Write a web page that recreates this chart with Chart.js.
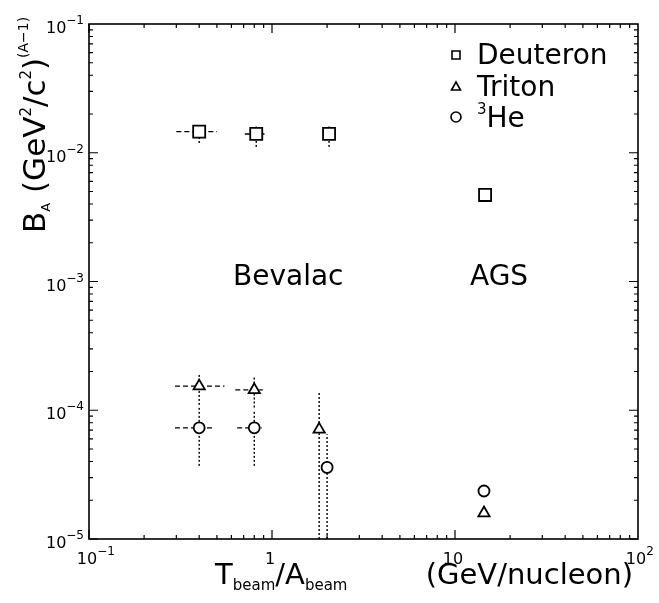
<!DOCTYPE html>
<html>
<head>
<meta charset="UTF-8" />
<title>B_A vs beam energy</title>
<script src="https://cdn.jsdelivr.net/npm/chart.js"></script>
<style>
  body { margin: 0; background: #fff; }
  canvas { display: block; }
</style>
</head>
<body>
<canvas id="baChart" width="659" height="603"></canvas>
<script>
// --- data ---
const deutX   = [0.40, 0.82, 2.05, 14.6];
const deutY   = [0.0146, 0.0140, 0.0140, 0.0047];
const deutXLo = [0.30, 0.71, null, null];
const deutXHi = [0.50, 0.91, null, null];
const deutYLo = [0.0119, 0.0111, 0.0111, null];
const deutYHi = [0.0167, 0.0160, 0.0160, null];

const tritX   = [0.40, 0.80, 1.81, 14.4];
const tritY   = [1.54e-4, 1.44e-4, 7.1e-5, 1.59e-5];
const tritXLo = [0.295, 0.63, null, null];
const tritXHi = [0.55, 0.89, null, null];
const tritYLo = [1.1e-4, 1.05e-4, 1e-5, null];
const tritYHi = [1.95e-4, 1.8e-4, 1.39e-4, null];

const heX   = [0.40, 0.80, 2.0, 14.4];
const heY   = [7.3e-5, 7.3e-5, 3.6e-5, 2.36e-5];
const heXLo = [0.295, 0.645, null, null];
const heXHi = [0.475, 0.88, null, null];
const heYLo = [3.7e-5, 3.7e-5, 1e-5, null];
const heYHi = [1.05e-4, 1.0e-4, 6.5e-5, null];

const xMajor = [0.1, 1, 10, 100];
const xTickBase = ["10", "1", "10", "10"];
const xTickExp  = ["\u22121", "", "", "2"];
const yMajor = [1e-1, 1e-2, 1e-3, 1e-4, 1e-5];
const yTickBase = ["10", "10", "10", "10", "10"];
const yTickExp  = ["\u22121", "\u22122", "\u22123", "\u22124", "\u22125"];

const legendNames = ["Deuteron", "Triton", "He"];
const regionLabels = ["Bevalac", "AGS"];

const FONT = "'DejaVu Sans', sans-serif";

function pts(xs, ys) {
  return xs.map((x, i) => ({ x: x, y: ys[i] }));
}

// draw a run of text pieces: [text, size, dy]
function drawRich(ctx, parts, x, y, align) {
  let w = 0;
  parts.forEach(p => { ctx.font = p[1] + "px " + FONT; w += ctx.measureText(p[0]).width; });
  let cx = align === "right" ? x - w : align === "center" ? x - w / 2 : x;
  ctx.textAlign = "left";
  ctx.textBaseline = "alphabetic";
  parts.forEach(p => {
    ctx.font = p[1] + "px " + FONT;
    ctx.fillText(p[0], cx, y + (p[2] || 0));
    cx += ctx.measureText(p[0]).width;
  });
}

function marker(ctx, style, x, y, r) {
  ctx.beginPath();
  if (style === "rect") {
    ctx.rect(x - r, y - r, 2 * r, 2 * r);
  } else if (style === "triangle") {
    ctx.moveTo(x, y - r);
    ctx.lineTo(x + r * 0.9, y + r * 0.6);
    ctx.lineTo(x - r * 0.9, y + r * 0.6);
    ctx.closePath();
  } else {
    ctx.arc(x, y, r, 0, Math.PI * 2);
  }
  ctx.fillStyle = "#fff";
  ctx.fill();
  ctx.stroke();
}

const errorBars = {
  id: "errorBars",
  beforeDatasetsDraw(chart) {
    const ctx = chart.ctx, xs = chart.scales.x, ys = chart.scales.y, a = chart.chartArea;
    ctx.save();
    ctx.beginPath();
    ctx.rect(a.left, a.top, a.right - a.left, a.bottom - a.top);
    ctx.clip();
    ctx.strokeStyle = "#000";
    ctx.lineWidth = 1.4;
    chart.data.datasets.forEach(ds => {
      ds.data.forEach((p, i) => {
        const px = xs.getPixelForValue(p.x), py = ys.getPixelForValue(p.y);
        if (ds.xLo[i] != null) {
          ctx.setLineDash([5, 3]);
          ctx.beginPath();
          ctx.moveTo(xs.getPixelForValue(ds.xLo[i]), py);
          ctx.lineTo(xs.getPixelForValue(ds.xHi[i]), py);
          ctx.stroke();
        }
        if (ds.yLo[i] != null) {
          ctx.setLineDash([2, 2]);
          ctx.beginPath();
          ctx.moveTo(px, ys.getPixelForValue(ds.yLo[i]));
          ctx.lineTo(px, ys.getPixelForValue(ds.yHi[i]));
          ctx.stroke();
        }
      });
    });
    ctx.restore();
  },
  afterDraw(chart) {
    const ctx = chart.ctx, xs = chart.scales.x, ys = chart.scales.y, a = chart.chartArea;
    ctx.save();
    ctx.strokeStyle = "#000";
    ctx.fillStyle = "#000";
    // frame
    ctx.lineWidth = 1.6;
    ctx.strokeRect(a.left, a.top, a.right - a.left, a.bottom - a.top);
    // inward ticks on all four sides
    ctx.lineWidth = 1.2;
    ctx.beginPath();
    for (let d = -1; d < 2; d++) {
      for (let m = 1; m <= 9; m++) {
        const v = m * Math.pow(10, d), len = m === 1 ? 9 : 4;
        const px = xs.getPixelForValue(v);
        ctx.moveTo(px, a.bottom); ctx.lineTo(px, a.bottom - len);
        ctx.moveTo(px, a.top); ctx.lineTo(px, a.top + len);
      }
    }
    for (let d = -5; d < -1; d++) {
      for (let m = 1; m <= 9; m++) {
        const v = m * Math.pow(10, d), len = m === 1 ? 9 : 4;
        const py = ys.getPixelForValue(v);
        ctx.moveTo(a.left, py); ctx.lineTo(a.left + len, py);
        ctx.moveTo(a.right, py); ctx.lineTo(a.right - len, py);
      }
    }
    ctx.stroke();
    // tick labels
    xMajor.forEach((v, i) => {
      const px = xs.getPixelForValue(v);
      ctx.font = "16px " + FONT;
      const bw = ctx.measureText(xTickBase[i]).width;
      drawRich(ctx, [[xTickBase[i], 16, 0], [xTickExp[i], 12, -9]], px - 2 - bw / 2, a.bottom + 25, "left");
    });
    yMajor.forEach((v, i) => {
      const py = ys.getPixelForValue(v);
      drawRich(ctx, [[yTickBase[i], 16, 0], [yTickExp[i], 12, -9]], a.left - 5, py + 9, "right");
    });
    // axis titles
    drawRich(ctx, [["T", 29, 0], ["beam", 15, 6], ["/", 29, 0], ["A", 29, 0], ["beam", 15, 6]], 215, 584, "left");
    drawRich(ctx, [["(GeV/nucleon)", 29, 0]], 633, 584, "right");
    ctx.save();
    ctx.translate(45, 233);
    ctx.rotate(-Math.PI / 2);
    drawRich(ctx, [["B", 31, 0], ["A", 13, 5], [" (GeV", 31, 0], ["2", 15, -14], ["/c", 31, 0],
                   ["2", 15, -14], [")", 31, 0], ["(A\u22121)", 14, -17]], 0, 0, "left");
    ctx.restore();
    // region labels
    drawRich(ctx, [[regionLabels[0], 28, 0]], 233, 285, "left");
    drawRich(ctx, [[regionLabels[1], 28, 0]], 470, 285, "left");
    // legend
    ctx.lineWidth = 1.6;
    const rows = [55, 87, 117];
    chart.data.datasets.forEach((ds, i) => {
      marker(ctx, ds.pointStyle, 456, rows[i], i === 0 ? 4 : 5);
      ctx.fillStyle = "#000";
      if (i === 2) {
        drawRich(ctx, [["3", 15, -13], [legendNames[i], 28, 0]], 477, rows[i] + 10, "left");
      } else {
        drawRich(ctx, [[legendNames[i], 28, 0]], 477, rows[i] + 9, "left");
      }
    });
    ctx.restore();
  }
};

const common = {
  showLine: false,
  borderColor: "#000",
  backgroundColor: "#fff",
  borderWidth: 1.8,
  pointHoverRadius: 6,
};

new Chart(document.getElementById("baChart"), {
  type: "scatter",
  data: {
    datasets: [
      Object.assign({}, common, { label: "Deuteron", data: pts(deutX, deutY), pointStyle: "rect", pointRadius: 8.5,
        xLo: deutXLo, xHi: deutXHi, yLo: deutYLo, yHi: deutYHi }),
      Object.assign({}, common, { label: "Triton", data: pts(tritX, tritY), pointStyle: "triangle", pointRadius: 6.5,
        xLo: tritXLo, xHi: tritXHi, yLo: tritYLo, yHi: tritYHi }),
      Object.assign({}, common, { label: "3He", data: pts(heX, heY), pointStyle: "circle", pointRadius: 5.5,
        xLo: heXLo, xHi: heXHi, yLo: heYLo, yHi: heYHi }),
    ],
  },
  options: {
    responsive: false,
    devicePixelRatio: 1,
    animation: false,
    layout: { padding: { left: 89, right: 21, top: 24, bottom: 64 } },
    plugins: { legend: { display: false }, tooltip: { enabled: false } },
    scales: {
      x: { type: "logarithmic", min: 0.1, max: 100, display: false },
      y: { type: "logarithmic", min: 1e-5, max: 1e-1, display: false },
    },
  },
  plugins: [errorBars],
});
</script>
</body>
</html>
